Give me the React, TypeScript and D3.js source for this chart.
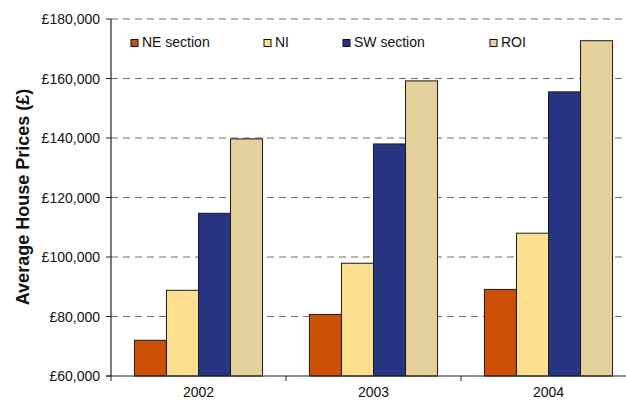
import React from "react";
import * as d3 from "d3";

// Average house prices by region and year
const years = ["2002", "2003", "2004"];
const seriesNames = ["NE section", "NI", "SW section", "ROI"];
const neSection = [72000, 80700, 89100];
const ni = [88800, 97900, 108000];
const swSection = [114700, 138000, 155500];
const roi = [139700, 159200, 172700];
const seriesValues = [neSection, ni, swSection, roi];
const seriesColors = ["#CC5005", "#FCE08F", "#283583", "#E5D19B"];
const yTicks = [60000, 80000, 100000, 120000, 140000, 160000, 180000];

const W = 626;
const H = 403;
const left = 111;
const right = 636;
const top = 19;
const bottom = 376;

const fmt = (v: number) => "£" + d3.format(",")(v);

export default function App() {
  const x = d3.scaleBand<string>().domain(years).range([left, right]);
  const groupW = x.bandwidth() * 0.732;
  const inner = d3.scaleBand<string>().domain(seriesNames).range([0, groupW]);
  const y = d3.scaleLinear().domain([60000, 180000]).range([bottom, top]);
  const font = "'Liberation Sans', Arial, sans-serif";

  const legendX = [131, 264, 343, 490];

  return (
    <svg
      width={W}
      height={H}
      style={{ position: "absolute", left: 0, top: 0, background: "#fff" }}
      fontFamily={font}
    >
      {/* gridlines */}
      {yTicks.map((t) => (
        <g key={t}>
          {t > 60000 && (
            <line
              x1={left}
              x2={right}
              y1={y(t)}
              y2={y(t)}
              stroke="#6e6e6e"
              strokeWidth={1.2}
              strokeDasharray="7,5"
            />
          )}
          <line x1={left - 5} x2={left} y1={y(t)} y2={y(t)} stroke="#222" />
          <text
            x={100}
            y={y(t)}
            dy="0.36em"
            textAnchor="end"
            fontSize={14}
            fill="#111"
          >
            {fmt(t)}
          </text>
        </g>
      ))}

      {/* bars */}
      {years.map((yr, i) => {
        const gx = (x(yr) as number) + (x.bandwidth() - groupW) / 2;
        return (
          <g key={yr}>
            {seriesNames.map((s, j) => {
              const v = seriesValues[j][i];
              return (
                <rect
                  key={s}
                  x={gx + (inner(s) as number)}
                  y={y(v)}
                  width={inner.bandwidth()}
                  height={bottom - y(v)}
                  fill={seriesColors[j]}
                  stroke="#1a1a1a"
                  strokeWidth={1}
                />
              );
            })}
            <text
              x={(x(yr) as number) + x.bandwidth() / 2}
              y={397}
              textAnchor="middle"
              fontSize={14}
              fill="#111"
            >
              {yr}
            </text>
          </g>
        );
      })}

      {/* axes */}
      <line x1={left} x2={left} y1={top} y2={bottom} stroke="#222" strokeWidth={1.2} />
      <line x1={left - 5} x2={right} y1={bottom} y2={bottom} stroke="#222" strokeWidth={1.2} />
      {years.map((yr) => (
        <line
          key={yr}
          x1={x(yr) as number}
          x2={x(yr) as number}
          y1={bottom}
          y2={bottom + 5}
          stroke="#222"
        />
      ))}

      {/* legend */}
      {seriesNames.map((s, j) => (
        <g key={s}>
          <rect
            x={legendX[j]}
            y={39.5}
            width={7}
            height={7}
            fill={seriesColors[j]}
            stroke="#111"
          />
          <text x={legendX[j] + 11} y={47} fontSize={14} fill="#111">
            {s}
          </text>
        </g>
      ))}

      {/* y-axis title */}
      <text
        transform="translate(29,197) rotate(-90)"
        textAnchor="middle"
        fontSize={18}
        fontWeight="bold"
        fill="#111"
      >
        Average House Prices (£)
      </text>
    </svg>
  );
}
